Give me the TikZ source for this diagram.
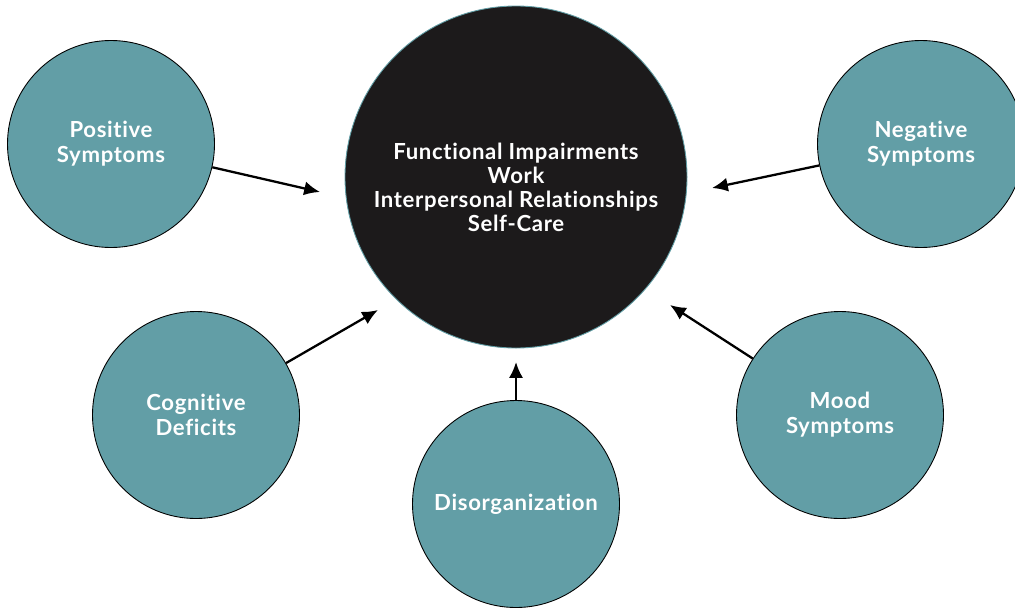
\documentclass[tikz,border=0pt]{standalone}
\usepackage{fontspec}
\setmainfont{Lato}[Ligatures={NoCommon,NoRare,NoDiscretionary}, LetterSpace=3]
\usetikzlibrary{arrows.meta}
\definecolor{teal}{HTML}{629EA6}
\definecolor{ink}{HTML}{1C1A1B}
\begin{document}
\begin{tikzpicture}[-{Latex[length=9pt,width=8pt]}, line width=1.3pt,
    sat/.style={circle, draw=black, line width=0.5pt, fill=teal, minimum size=4.14cm,
      text=white, font=\bfseries\fontsize{12.6}{14.2}\selectfont, align=center},
    hub/.style={circle, draw=teal, line width=0.5pt, fill=ink, minimum size=6.84cm}]
    \useasboundingbox (0, 0) rectangle (20.3, -12.18);

    % Centre
    \node[hub] (fi) at (10.32, -3.54) {};
    \node[text=white, font=\bfseries\fontsize{12.6}{13.7}\selectfont, align=center] (fitext) at (10.32, -3.74)
      {Functional Impairments\\Work\\Interpersonal Relationships\\Self-Care};

    % Symptom circles
    \node[sat] (pos) at (2.22, -2.88) {Positive\\Symptoms};
    \node[sat] (neg) at (18.42, -2.88) {Negative\\Symptoms};
    \node[sat] (cog) at (3.92, -8.30) {Cognitive\\Deficits};
    \node[sat] (dis) at (10.32, -10.08) {Disorganization};
    \node[sat] (mood) at (16.80, -8.30) {Mood\\Symptoms};

    % Arrow ends
    \coordinate (tpos) at (6.40, -3.84);
    \coordinate (tneg) at (14.24, -3.76);
    \coordinate (tcog) at (7.56, -6.20);
    \coordinate (tdis) at (10.32, -7.24);
    \coordinate (tmood) at (13.40, -6.10);

    % Edges
    \draw (pos) -- (tpos);
    \draw (neg) -- (tneg);
    \draw (cog) -- (tcog);
    \draw (dis) -- (tdis);
    \draw (mood) -- (tmood);
\end{tikzpicture}
\end{document}
